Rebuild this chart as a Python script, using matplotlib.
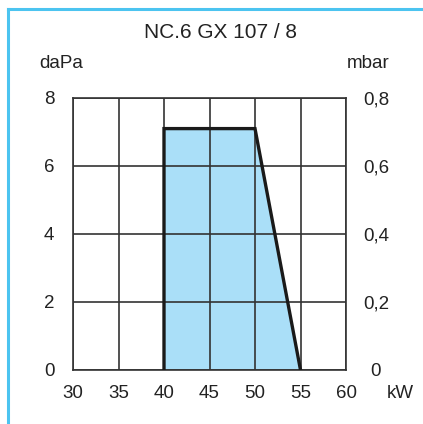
import numpy as np
import matplotlib
matplotlib.use("Agg")
import matplotlib.pyplot as plt
from matplotlib.lines import Line2D

plt.rcParams['font.family'] = ['Liberation Sans', 'DejaVu Sans']

# data
title = "NC.6 GX 107 / 8"
kw = [40, 40, 50, 55]
dapa = [0, 7.1, 7.1, 0]
x_ticks = [30, 35, 40, 45, 50, 55, 60]
y_ticks = [0, 2, 4, 6, 8]
mbar_ticks = [0, 0.2, 0.4, 0.6, 0.8]
mbar_labels = ["0", "0,2", "0,4", "0,6", "0,8"]

W, H = 423, 424
fs = 13.5
fig = plt.figure(figsize=(W / 100, H / 100), dpi=100)

ax = fig.add_axes([73 / W, 54 / H, (346 - 73) / W, (370 - 98) / H])
ax.fill(kw, dapa, color='#aadff8', zorder=1)
ax.set_xlim(30, 60)
ax.set_ylim(0, 8)
ax.set_xticks(x_ticks)
ax.set_yticks(y_ticks)
ax.grid(True, color='#333333', linewidth=1.2, zorder=2)
ax.set_axisbelow(False)
ax.plot(kw, dapa, color='#1a1a1a', linewidth=2.4, zorder=3, solid_joinstyle='miter')
ax.tick_params(length=0, labelsize=fs, colors='#222222', pad=13.5)
ax.tick_params(axis='x', pad=11)
for s in ax.spines.values():
    s.set_color('#333333')
    s.set_linewidth(1.2)

ax2 = ax.twinx()
ax2.set_ylim(0, 0.8)
ax2.set_yticks(mbar_ticks)
ax2.set_yticklabels(mbar_labels, ha='center')
ax2.tick_params(length=0, labelsize=fs, colors='#222222', pad=21.5)
for s in ax2.spines.values():
    s.set_visible(False)

fig.text(220 / W, 1 - 33 / H, title, ha='center', va='center', fontsize=15, color='#222222')
fig.text(61 / W, 1 - 63 / H, "daPa", ha='center', va='center', fontsize=fs, color='#222222')
fig.text(368 / W, 1 - 63 / H, "mbar", ha='center', va='center', fontsize=fs, color='#222222')
fig.text(400 / W, 1 - 393 / H, "kW", ha='center', va='center', fontsize=fs, color='#222222')

# blue frame: top and left edges
fig.add_artist(Line2D([8 / W, 8 / W], [0, 1 - 8.5 / H], transform=fig.transFigure,
                      color='#4cc4f0', linewidth=2.2))
fig.add_artist(Line2D([8 / W, 1], [1 - 8.5 / H, 1 - 8.5 / H], transform=fig.transFigure,
                      color='#4cc4f0', linewidth=2.2))

fig.savefig("out.png", dpi=100)
